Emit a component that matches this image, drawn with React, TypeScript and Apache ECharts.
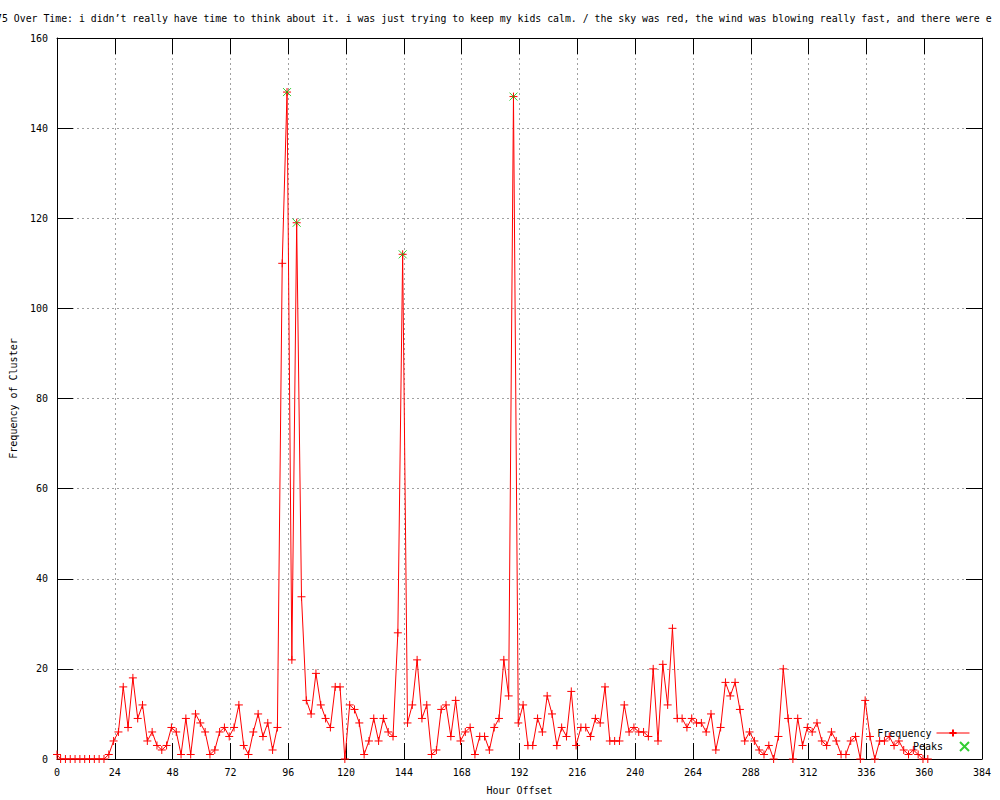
import React, { useEffect, useRef } from "react";
import * as echarts from "echarts";

const hours = [
  0,
  1.5, 3.5, 5.5, 7.5, 9.5, 11.5, 13.5, 15.5, 17.5, 19.5,
  21.5, 23.5, 25.5, 27.5, 29.5, 31.5, 33.5, 35.5, 37.5, 39.5,
  41.5, 43.5, 45.5, 47.5, 49.5, 51.5, 53.5, 55.5, 57.5, 59.5,
  61.5, 63.5, 65.5, 67.5, 69.5, 71.5, 73.5, 75.5, 77.5, 79.5,
  81.5, 83.5, 85.5, 87.5, 89.5, 91.5, 93.5, 95.5, 97.5, 99.5,
  101.5, 103.5, 105.5, 107.5, 109.5, 111.5, 113.5, 115.5, 117.5, 119.5,
  121.5, 123.5, 125.5, 127.5, 129.5, 131.5, 133.5, 135.5, 137.5, 139.5,
  141.5, 143.5, 145.5, 147.5, 149.5, 151.5, 153.5, 155.5, 157.5, 159.5,
  161.5, 163.5, 165.5, 167.5, 169.5, 171.5, 173.5, 175.5, 177.5, 179.5,
  181.5, 183.5, 185.5, 187.5, 189.5, 191.5, 193.5, 195.5, 197.5, 199.5,
  201.5, 203.5, 205.5, 207.5, 209.5, 211.5, 213.5, 215.5, 217.5, 219.5,
  221.5, 223.5, 225.5, 227.5, 229.5, 231.5, 233.5, 235.5, 237.5, 239.5,
  241.5, 243.5, 245.5, 247.5, 249.5, 251.5, 253.5, 255.5, 257.5, 259.5,
  261.5, 263.5, 265.5, 267.5, 269.5, 271.5, 273.5, 275.5, 277.5, 279.5,
  281.5, 283.5, 285.5, 287.5, 289.5, 291.5, 293.5, 295.5, 297.5, 299.5,
  301.5, 303.5, 305.5, 307.5, 309.5, 311.5, 313.5, 315.5, 317.5, 319.5,
  321.5, 323.5, 325.5, 327.5, 329.5, 331.5, 333.5, 335.5, 337.5, 339.5,
  341.5, 343.5, 345.5, 347.5, 349.5, 351.5, 353.5, 355.5, 357.5, 359.5,
  361.5,
];

const frequency = [
  1,
  0, 0, 0, 0, 0, 0, 0, 0, 0, 0,
  1, 4, 6, 16, 7, 18, 9, 12, 4, 6,
  3, 2, 3, 7, 6, 1, 9, 1, 10, 8,
  6, 1, 2, 6, 7, 5, 7, 12, 3, 1,
  6, 10, 5, 8, 2, 7, 110, 148, 22, 119,
  36, 13, 10, 19, 12, 9, 7, 16, 16, 0,
  12, 11, 8, 1, 4, 9, 4, 9, 6, 5,
  28, 112, 8, 12, 22, 9, 12, 1, 2, 11,
  12, 5, 13, 4, 6, 7, 1, 5, 5, 2,
  7, 9, 22, 14, 147, 8, 12, 3, 3, 9,
  6, 14, 10, 3, 7, 5, 15, 3, 7, 7,
  5, 9, 8, 16, 4, 4, 4, 12, 6, 7,
  6, 6, 5, 20, 4, 21, 12, 29, 9, 9,
  7, 9, 8, 8, 6, 10, 2, 7, 17, 14,
  17, 11, 4, 6, 4, 2, 1, 3, 0, 5,
  20, 9, 0, 9, 3, 7, 6, 8, 4, 3,
  6, 4, 1, 1, 4, 5, 0, 13, 5, 0,
  4, 4, 5, 3, 4, 2, 1, 2, 1, 0,
  0,
];

const peakHours = [95.5, 99.5, 143.5, 189.5];
const peakValues = [148, 119, 112, 147];

const xTicks = { min: 0, max: 384, interval: 24 };
const yTicks = { min: 0, max: 160, interval: 20 };

const TITLE =
  "75 Over Time: i didn\u2019t really have time to think about it. i was just trying to keep my kids calm. / the sky was red, the wind was blowing really fast, and there were e";

const FONT = "'DejaVu Sans Mono', 'Liberation Mono', monospace";
const PLUS = "path://M0,4L8,4M4,0L4,8";
const CROSS = "path://M0,0L8,8M8,0L0,8";

export default function App() {
  const ref = useRef<HTMLDivElement>(null);

  useEffect(() => {
    if (!ref.current) return;
    const chart = echarts.init(ref.current, undefined, { renderer: "svg" });

    const axisLine = { show: true, onZero: false, lineStyle: { color: "#000000", width: 1 } };
    const axisTick = { show: true, inside: true, length: 16, lineStyle: { color: "#000000", width: 1 } };
    const splitLine = { show: true, lineStyle: { color: "#a0a0a0", width: 1, type: [2, 3] } };
    const labelStyle = { color: "#000000", fontFamily: FONT, fontSize: 10 };

    const legendBase = {
      right: 30,
      orient: "vertical",
      align: "right",
      padding: 0,
      itemWidth: 33,
      itemHeight: 9,
      textStyle: { ...labelStyle },
      lineStyle: { width: 1 },
      selectedMode: false,
    };

    chart.setOption({
      animation: false,
      backgroundColor: "#ffffff",
      textStyle: { fontFamily: FONT, fontSize: 10, color: "#000000" },
      grid: { left: 57, right: 18, top: 38, bottom: 40, show: false },
      graphic: [
        {
          type: "text",
          left: -4,
          top: 13,
          style: { text: TITLE, font: `9.85px ${FONT}`, fill: "#000000" },
          silent: true,
        },
      ],
      legend: [
        { ...legendBase, data: ["Frequency"], top: 728 },
        { ...legendBase, data: ["Peaks"], top: 741 },
      ],
      xAxis: [
        {
          type: "value",
          position: "bottom",
          ...xTicks,
          axisLine,
          axisTick,
          splitLine,
          axisLabel: { ...labelStyle, margin: 8 },
          name: "Hour Offset",
          nameLocation: "middle",
          nameGap: 26,
          nameTextStyle: { ...labelStyle },
        },
        {
          type: "value",
          position: "top",
          ...xTicks,
          axisLine,
          axisTick,
          splitLine: { show: false },
          axisLabel: { show: false },
        },
      ],
      yAxis: [
        {
          type: "value",
          position: "left",
          ...yTicks,
          axisLine,
          axisTick,
          splitLine,
          axisLabel: { ...labelStyle, margin: 9 },
          name: "Frequency of Cluster",
          nameLocation: "middle",
          nameRotate: 90,
          nameGap: 39,
          nameTextStyle: { ...labelStyle },
        },
        {
          type: "value",
          position: "right",
          ...yTicks,
          axisLine,
          axisTick,
          splitLine: { show: false },
          axisLabel: { show: false },
        },
      ],
      series: [
        {
          name: "Frequency",
          type: "line",
          xAxisIndex: 0,
          yAxisIndex: 0,
          data: hours.map((h, i) => [h, frequency[i]]),
          symbol: PLUS,
          symbolSize: 8,
          showSymbol: true,
          showAllSymbol: true,
          lineStyle: { color: "#ff0000", width: 1 },
          itemStyle: { color: "#ff0000", borderColor: "#ff0000", borderWidth: 1 },
          z: 3,
        },
        {
          name: "Peaks",
          type: "scatter",
          xAxisIndex: 0,
          yAxisIndex: 0,
          data: peakHours.map((h, i) => [h, peakValues[i]]),
          symbol: CROSS,
          symbolSize: 8,
          itemStyle: { color: "#00c000", borderColor: "#00c000", borderWidth: 1 },
          z: 4,
        },
      ],
    });

    return () => chart.dispose();
  }, []);

  return (
    <div
      ref={ref}
      style={{ position: "absolute", left: 0, top: 0, width: 1000, height: 800, background: "#ffffff" }}
    />
  );
}
